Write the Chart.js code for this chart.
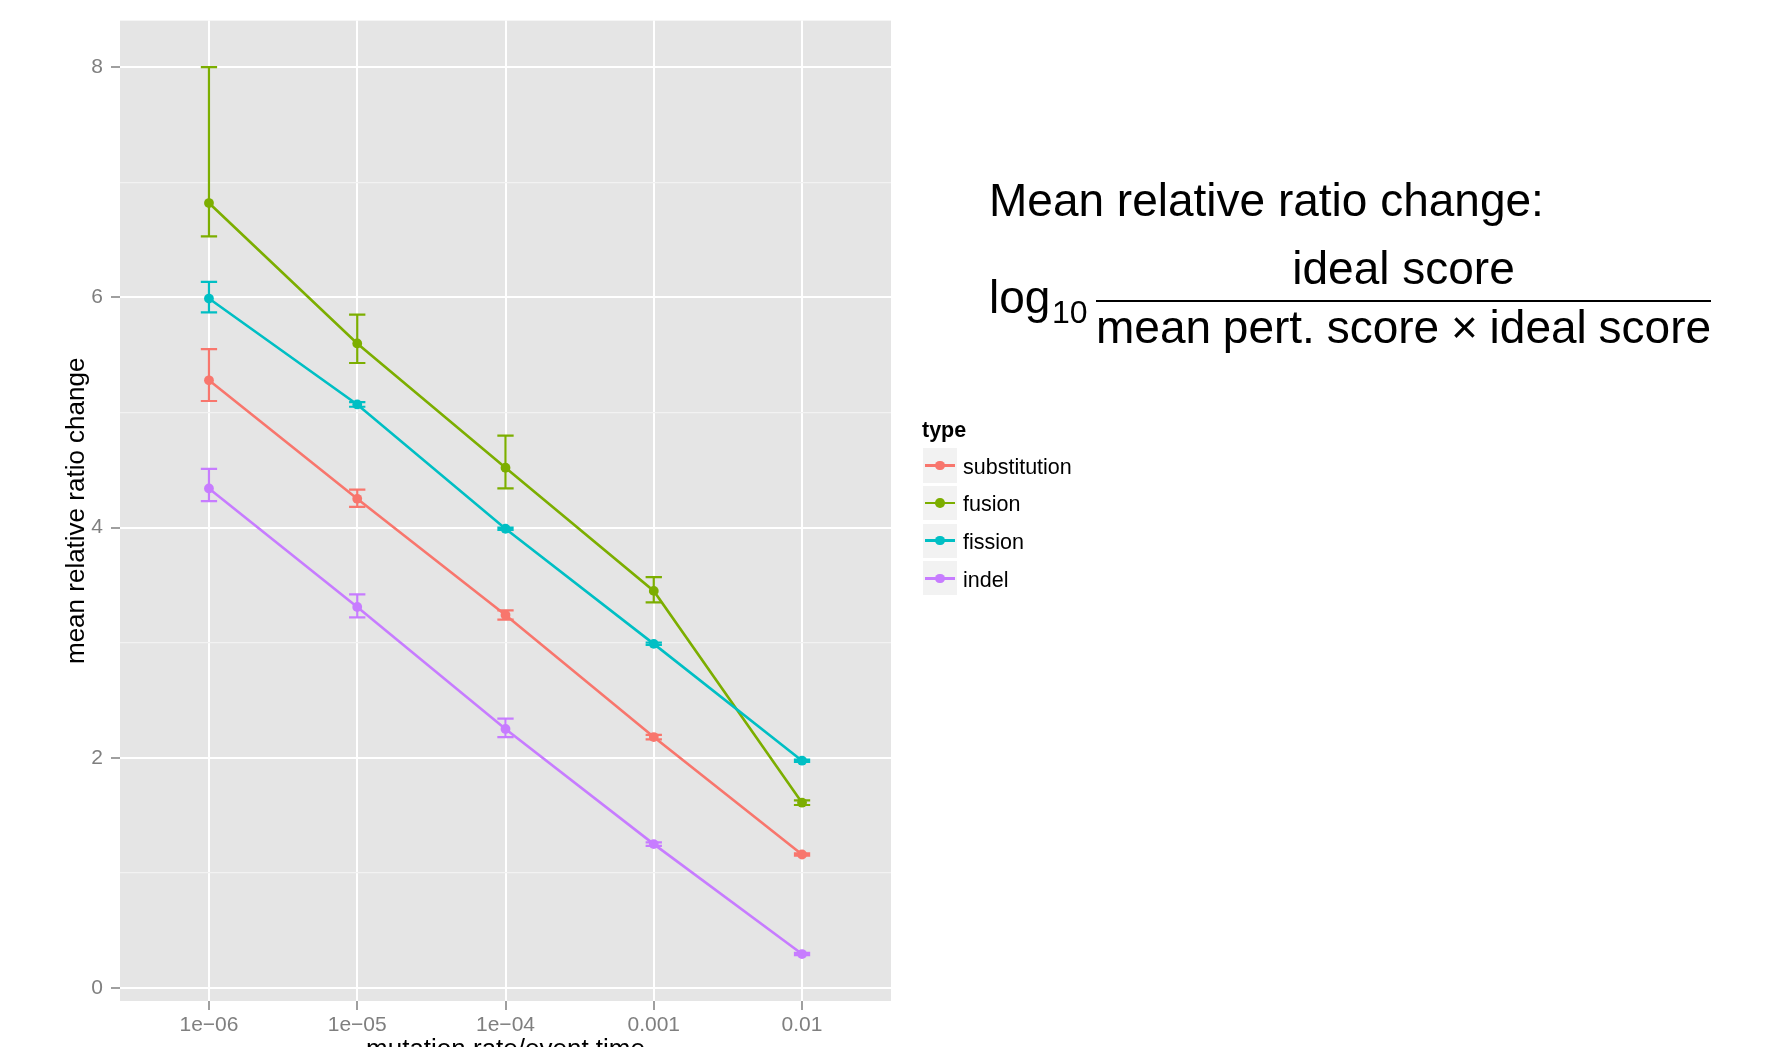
<!DOCTYPE html>
<html>
<head>
<meta charset="utf-8">
<title>Mean relative ratio change</title>
<script src="https://cdn.jsdelivr.net/npm/chart.js@4.4.1/dist/chart.umd.min.js"></script>
<style>
  html, body { margin: 0; padding: 0; background: #fff; overflow: hidden; }
  #wrap { position: relative; width: 1779px; height: 1047px; overflow: hidden;
          font-family: "Liberation Sans", Arial, Helvetica, sans-serif; }
  #chart { position: absolute; left: 0; top: 0; }
  .txt { position: absolute; white-space: nowrap; line-height: 1; color: #000; }
  .big { font-size: 46px; }
  .key { position: absolute; background: #F2F2F2; }
  .key-line { position: absolute; height: 2.5px; }
  .key-dot { position: absolute; width: 9.6px; height: 9.6px; border-radius: 50%; }
  .key-label { position: absolute; font-size: 21.5px; color: #000; white-space: nowrap; }
</style>
</head>
<body>
<div id="wrap">
  <canvas id="chart" width="1779" height="1090" style="width:1779px;height:1090px"></canvas>

  <div class="txt big" style="left:989px;top:177px">Mean relative ratio change:</div>
  <div class="txt big" style="left:989px;top:274px">log</div>
  <div class="txt" style="left:1052px;top:296px;font-size:32px">10</div>
  <div class="txt big" style="left:1096px;width:615px;top:245px;text-align:center">ideal score</div>
  <div style="position:absolute;left:1096px;top:300px;width:615px;height:2px;background:#000"></div>
  <div class="txt big" style="left:1096px;top:304px;word-spacing:-1px">mean pert. score × ideal score</div>

  <div id="legend"></div>
</div>

<script>
/* ggplot-style line chart with error bars, redrawn with Chart.js */

const rateLabels = ['1e\u221206', '1e\u221205', '1e\u221204', '0.001', '0.01'];
const types  = ['substitution', 'fusion', 'fission', 'indel'];
const colors = ['#F8766D', '#7CAE00', '#00BFC4', '#C77CFF'];

const substitutionMean = [5.28, 4.25, 3.24, 2.18, 1.16];
const substitutionLow  = [5.10, 4.18, 3.20, 2.16, 1.15];
const substitutionHigh = [5.55, 4.33, 3.28, 2.20, 1.17];

const fusionMean = [6.82, 5.60, 4.52, 3.45, 1.61];
const fusionLow  = [6.53, 5.43, 4.34, 3.35, 1.59];
const fusionHigh = [8.00, 5.85, 4.80, 3.57, 1.63];

const fissionMean = [5.99, 5.07, 3.99, 2.99, 1.975];
const fissionLow  = [5.87, 5.05, 3.98, 2.98, 1.965];
const fissionHigh = [6.135, 5.09, 4.00, 3.00, 1.985];

const indelMean = [4.34, 3.31, 2.25, 1.25, 0.295];
const indelLow  = [4.23, 3.22, 2.18, 1.235, 0.285];
const indelHigh = [4.51, 3.42, 2.34, 1.265, 0.305];

const yTicks = [0, 1, 2, 3, 4, 5, 6, 7, 8];

const means = [substitutionMean, fusionMean, fissionMean, indelMean];
const lows  = [substitutionLow, fusionLow, fissionLow, indelLow];
const highs = [substitutionHigh, fusionHigh, fissionHigh, indelHigh];

const FONT = '"Liberation Sans", Arial, Helvetica, sans-serif';
const CAP_WIDTH = 0.11; // in x data units

const panelBackground = {
  id: 'panelBackground',
  beforeDraw(chart) {
    const { ctx, chartArea: a } = chart;
    ctx.save();
    ctx.fillStyle = '#E5E5E5';
    ctx.fillRect(a.left, a.top, a.right - a.left, a.bottom - a.top);
    ctx.restore();
  },
};

const errorBars = {
  id: 'errorBars',
  beforeDatasetsDraw(chart) {
    const { ctx, scales: { x, y } } = chart;
    ctx.save();
    ctx.lineWidth = 2.2;
    chart.data.datasets.forEach(ds => {
      ctx.strokeStyle = ds.borderColor;
      ds.errLow.forEach((lo, i) => {
        const px = x.getPixelForValue(i);
        const half = x.getPixelForValue(i + CAP_WIDTH / 2) - px;
        const yl = y.getPixelForValue(lo);
        const yh = y.getPixelForValue(ds.errHigh[i]);
        ctx.beginPath();
        ctx.moveTo(px, yl); ctx.lineTo(px, yh);
        ctx.moveTo(px - half, yh); ctx.lineTo(px + half, yh);
        ctx.moveTo(px - half, yl); ctx.lineTo(px + half, yl);
        ctx.stroke();
      });
    });
    ctx.restore();
  },
};

const datasets = types.map((t, k) => ({
  label: t,
  data: means[k].map((v, i) => ({ x: i, y: v })),
  errLow: lows[k],
  errHigh: highs[k],
  borderColor: colors[k],
  backgroundColor: colors[k],
  borderWidth: 2.6,
  pointRadius: 4.9,
  pointBorderWidth: 0,
  pointBackgroundColor: colors[k],
  tension: 0,
  order: types.length - k,
}));

new Chart(document.getElementById('chart'), {
  type: 'line',
  data: { datasets },
  plugins: [panelBackground, errorBars],
  options: {
    responsive: false,
    devicePixelRatio: 1,
    animation: false,
    events: [],
    layout: { padding: { left: 0, top: 18, right: 888, bottom: 0 } },
    plugins: { legend: { display: false }, tooltip: { enabled: false } },
    scales: {
      x: {
        type: 'linear',
        min: -0.6,
        max: 4.6,
        afterFit(s) { s.height = 89; },
        afterBuildTicks(s) { s.ticks = rateLabels.map((_, i) => ({ value: i })); },
        border: { display: false },
        grid: { color: '#FFFFFF', lineWidth: 2, tickColor: '#7F7F7F', tickWidth: 1.5, tickLength: 9 },
        ticks: {
          color: '#7F7F7F', font: { family: FONT, size: 21 }, padding: 3, maxRotation: 0, autoSkip: false,
          callback: v => rateLabels[v],
        },
        title: {
          display: true, text: 'mutation rate/event time', color: '#000',
          font: { family: FONT, size: 26 }, padding: { top: 0, bottom: 25 },
        },
      },
      y: {
        min: -0.113,
        max: 8.405,
        afterFit(s) { s.width = 120; },
        afterBuildTicks(s) { s.ticks = yTicks.map(v => ({ value: v })); },
        border: { display: false },
        grid: {
          color: c => (c.tick && c.tick.value % 2 ? '#F2F2F2' : '#FFFFFF'),
          lineWidth: c => (c.tick && c.tick.value % 2 ? 1.3 : 2),
          tickColor: c => (c.tick && c.tick.value % 2 ? 'rgba(0,0,0,0)' : '#7F7F7F'),
          tickWidth: 1.5,
          tickLength: 9,
        },
        ticks: {
          color: '#7F7F7F', font: { family: FONT, size: 21 }, padding: 8, autoSkip: false,
          callback: v => (v % 2 ? '' : String(v)),
        },
        title: {
          display: true, text: 'mean relative ratio change', color: '#000',
          font: { family: FONT, size: 26 }, padding: { top: 61, bottom: 0 },
        },
      },
    },
  },
});

// legend (ggplot style keys)
const legend = document.getElementById('legend');
const title = document.createElement('div');
title.className = 'txt';
title.style.cssText = 'left:922px;top:419.5px;font-size:21.5px;font-weight:bold';
title.textContent = 'type';
legend.appendChild(title);

types.forEach((t, i) => {
  const top = 448.3 + i * 37.6;
  const key = document.createElement('div');
  key.className = 'key';
  key.style.cssText = `left:922.7px;top:${top}px;width:34.6px;height:34.4px`;
  legend.appendChild(key);

  const line = document.createElement('div');
  line.className = 'key-line';
  line.style.cssText = `left:925px;top:${top + 17.2 - 1.25}px;width:30px;background:${colors[i]}`;
  legend.appendChild(line);

  const dot = document.createElement('div');
  dot.className = 'key-dot';
  dot.style.cssText = `left:935.2px;top:${top + 17.2 - 4.8}px;background:${colors[i]}`;
  legend.appendChild(dot);

  const label = document.createElement('div');
  label.className = 'key-label';
  label.style.cssText = `left:963px;top:${top + 1.5}px;line-height:34.4px`;
  label.textContent = t;
  legend.appendChild(label);
});
</script>
</body>
</html>
